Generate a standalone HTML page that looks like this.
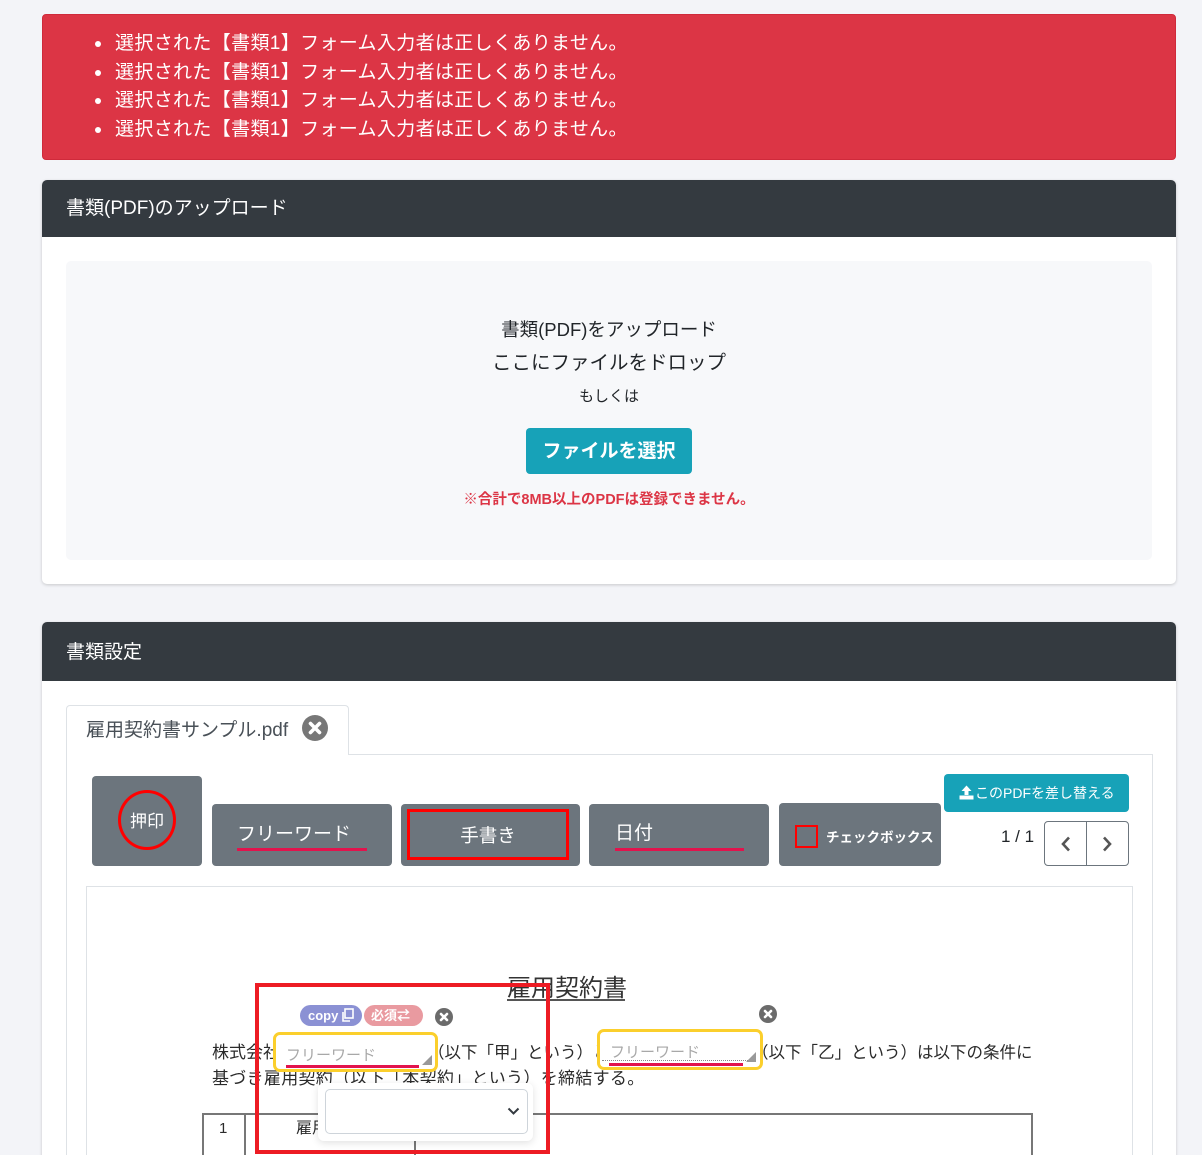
<!DOCTYPE html>
<html><head><meta charset="utf-8">
<style>
*{box-sizing:border-box;margin:0;padding:0}
html,body{width:1202px;height:1155px;overflow:hidden;background:#f3f4f8}
body{font-family:"Liberation Sans","Noto Sans CJK JP",sans-serif;color:#212529}
#root{position:relative;width:1202px;height:1155px;overflow:hidden;background:#f3f4f8}
.a{position:absolute;white-space:nowrap}
.w{color:#fff}
.btn{position:absolute;background:#6c757d;border-radius:4px}
.ul{position:absolute;height:3px;background:#e2134d}
.dot{position:absolute;width:6px;height:6px;border-radius:50%;background:#fff;left:95px}
.dt{position:absolute;color:#2b2b2b;font-size:17px;line-height:24px;white-space:nowrap}
.al{position:absolute;left:115px;color:#fff;font-size:19px;line-height:28px;letter-spacing:0.35px;white-space:nowrap}
</style></head><body><div id="root">

<!-- Alert -->
<div class="a" style="left:42px;top:14px;width:1134px;height:146px;background:#dc3545;border:1px solid #cf2a3b;border-radius:4px"></div>
<div class="dot" style="top:41px"></div>
<div class="dot" style="top:70px"></div>
<div class="dot" style="top:98px"></div>
<div class="dot" style="top:127px"></div>
<div class="al" style="top:30px">選択された【書類1】フォーム入力者は正しくありません。</div>
<div class="al" style="top:59px">選択された【書類1】フォーム入力者は正しくありません。</div>
<div class="al" style="top:87px">選択された【書類1】フォーム入力者は正しくありません。</div>
<div class="al" style="top:116px">選択された【書類1】フォーム入力者は正しくありません。</div>

<!-- Card 1 -->
<div class="a" style="left:42px;top:180px;width:1134px;height:404px;background:#fff;border-radius:5px;box-shadow:0 1px 3px rgba(0,0,0,.18)"></div>
<div class="a" style="left:42px;top:180px;width:1134px;height:57px;background:#343a40;border-radius:5px 5px 0 0"></div>
<div class="a w" style="left:66px;top:195px;font-size:19px;line-height:28px">書類(PDF)のアップロード</div>
<div class="a" style="left:66px;top:261px;width:1086px;height:299px;background:#f7f8fa;border-radius:5px"></div>
<div class="a" style="left:66px;top:316px;width:1086px;text-align:center;font-size:18.5px;line-height:28px">書類(PDF)をアップロード</div>
<div class="a" style="left:66px;top:349px;width:1086px;text-align:center;font-size:19.5px;line-height:28px">ここにファイルをドロップ</div>
<div class="a" style="left:66px;top:386px;width:1086px;text-align:center;font-size:15px;line-height:22px">もしくは</div>
<div class="a" style="left:526px;top:428px;width:166px;height:46px;background:#17a2b8;border-radius:4px;color:#fff;font-weight:bold;font-size:19px;line-height:48px;text-align:center">ファイルを選択</div>
<div class="a" style="left:66px;top:489px;width:1086px;text-align:center;font-size:14.5px;line-height:22px;font-weight:bold;color:#dc3545">※合計で8MB以上のPDFは登録できません。</div>

<!-- Card 2 -->
<div class="a" style="left:42px;top:622px;width:1134px;height:560px;background:#fff;border-radius:5px;box-shadow:0 1px 3px rgba(0,0,0,.18)"></div>
<div class="a" style="left:42px;top:622px;width:1134px;height:59px;background:#343a40;border-radius:5px 5px 0 0"></div>
<div class="a w" style="left:66px;top:639px;font-size:19px;line-height:28px">書類設定</div>

<!-- tab content border -->
<div class="a" style="left:66px;top:754px;width:1087px;height:440px;border:1px solid #dee2e6"></div>
<!-- tab -->
<div class="a" style="left:66px;top:705px;width:283px;height:50px;background:#fff;border:1px solid #dee2e6;border-bottom:none;border-radius:4px 4px 0 0"></div>
<div class="a" style="left:86px;top:717px;font-size:19px;line-height:28px;color:#495057">雇用契約書サンプル.pdf</div>
<svg class="a" style="left:302px;top:715px" width="26" height="26" viewBox="0 0 26 26"><circle cx="13" cy="13" r="13" fill="#777"/><path d="M8.5 8.5L17.5 17.5M17.5 8.5L8.5 17.5" stroke="#fff" stroke-width="3.6" stroke-linecap="round"/></svg>

<!-- toolbar -->
<div class="btn" style="left:92px;top:776px;width:110px;height:90px"></div>
<div class="a" style="left:118px;top:790px;width:58px;height:60px;border:3px solid #ff0000;border-radius:50%"></div>
<div class="a w" style="left:118px;top:809px;width:58px;text-align:center;font-size:17px;line-height:26px">押印</div>

<div class="btn" style="left:212px;top:804px;width:180px;height:62px"></div>
<div class="a w" style="left:237px;top:821px;font-size:19px;line-height:28px">フリーワード</div>
<div class="ul" style="left:237px;top:848px;width:130px"></div>

<div class="btn" style="left:401px;top:804px;width:179px;height:62px"></div>
<div class="a" style="left:407px;top:809px;width:162px;height:51px;border:3px solid #ff0000"></div>
<div class="a w" style="left:407px;top:822px;width:162px;text-align:center;font-size:18.5px;line-height:28px">手書き</div>

<div class="btn" style="left:589px;top:804px;width:180px;height:62px"></div>
<div class="a w" style="left:615px;top:820px;font-size:19px;line-height:28px">日付</div>
<div class="ul" style="left:615px;top:848px;width:129px"></div>

<div class="btn" style="left:779px;top:803px;width:162px;height:63px"></div>
<div class="a" style="left:795px;top:825px;width:23px;height:23px;border:2px solid #ff0000"></div>
<div class="a w" style="left:826px;top:827px;font-size:13.5px;line-height:22px;font-weight:bold">チェックボックス</div>

<div class="a" style="left:944px;top:774px;width:185px;height:38px;background:#17a2b8;border-radius:4px"></div>
<svg class="a" style="left:959px;top:785px" width="15" height="15" viewBox="0 0 15 15"><path d="M7.5 0.5L12.5 6H9.5V10H5.5V6H2.5Z" fill="#fff"/><rect x="0.5" y="10.5" width="14" height="4" fill="#fff"/></svg>
<div class="a w" style="left:975px;top:782px;font-size:14px;line-height:22px">このPDFを差し替える</div>

<div class="a" style="left:1001px;top:825px;font-size:17px;line-height:24px;color:#212529">1 / 1</div>
<div class="a" style="left:1044px;top:821px;width:85px;height:45px;border:1px solid #6c757d;border-radius:4px"></div>
<div class="a" style="left:1086px;top:822px;width:1px;height:43px;background:#6c757d"></div>
<svg class="a" style="left:1060px;top:836px" width="12" height="16" viewBox="0 0 12 16"><path d="M9 1.5L3 8L9 14.5" fill="none" stroke="#555" stroke-width="2.6"/></svg>
<svg class="a" style="left:1101px;top:836px" width="12" height="16" viewBox="0 0 12 16"><path d="M3 1.5L9 8L3 14.5" fill="none" stroke="#555" stroke-width="2.6"/></svg>

<!-- document -->
<div class="a" style="left:86px;top:886px;width:1047px;height:300px;border:1px solid #dee2e6;background:#fff"></div>
<div class="a" style="left:507px;top:974px;font-size:24px;line-height:30px;color:#333">雇用契約書</div>
<div class="a" style="left:507px;top:999px;width:118px;height:2px;background:#555"></div>

<div class="dt" style="left:212px;top:1041px">株式会社</div>
<div class="dt" style="left:428px;top:1041px;font-size:16.5px">（以下「甲」という）と</div>
<div class="dt" style="left:752px;top:1041px;font-size:16.5px">（以下「乙」という）は以下の条件に</div>
<div class="dt" style="left:212px;top:1067px;letter-spacing:0.3px">基づき雇用契約（以下「本契約」という）を締結する。</div>

<!-- table -->
<div class="a" style="left:202px;top:1113px;width:831px;height:2px;background:#777"></div>
<div class="a" style="left:202px;top:1113px;width:2px;height:60px;background:#777"></div>
<div class="a" style="left:244px;top:1113px;width:2px;height:60px;background:#777"></div>
<div class="a" style="left:414px;top:1113px;width:2px;height:60px;background:#777"></div>
<div class="a" style="left:1031px;top:1113px;width:2px;height:60px;background:#777"></div>
<div class="dt" style="left:219px;top:1117px;font-size:15px">1</div>
<div class="dt" style="left:296px;top:1117px;font-size:16px">雇用</div>

<!-- field 1 -->
<div class="a" style="left:273px;top:1032px;width:165px;height:40px;border:3px solid #fbcf2c;border-radius:7px;background:#fff"></div>
<div class="a" style="left:286px;top:1044px;font-size:15px;line-height:24px;color:#a8a8a8">フリーワード</div>
<div class="a" style="left:286px;top:1065px;width:133px;height:3px;background:#e2134d"></div>
<svg class="a" style="left:422px;top:1055px" width="10" height="10"><path d="M10 0V10H0Z" fill="#999"/></svg>

<!-- field 2 -->
<div class="a" style="left:597px;top:1029px;width:166px;height:41px;border:3px solid #fbcf2c;border-radius:7px;background:#fff"></div>
<div class="a" style="left:610px;top:1041px;font-size:15px;line-height:24px;color:#a8a8a8">フリーワード</div>
<div class="a" style="left:602px;top:1060px;width:146px;height:0;border-top:1px dotted #888"></div>
<div class="a" style="left:609px;top:1063px;width:134px;height:3px;background:#e2134d"></div>
<svg class="a" style="left:746px;top:1052px" width="10" height="10"><path d="M10 0V10H0Z" fill="#999"/></svg>
<svg class="a" style="left:759px;top:1005px" width="18" height="18" viewBox="0 0 18 18"><circle cx="9" cy="9" r="9" fill="#6b6b6b"/><path d="M6 6L12 12M12 6L6 12" stroke="#fff" stroke-width="2.6" stroke-linecap="round"/></svg>

<!-- badges -->
<div class="a" style="left:300px;top:1005px;width:62px;height:21px;background:#8b91d4;border-radius:11px"></div>
<div class="a w" style="left:308px;top:1006px;font-size:13px;line-height:19px;font-weight:bold">copy</div>
<svg class="a" style="left:341px;top:1008px" width="13" height="14" viewBox="0 0 13 14"><rect x="4" y="1" width="8" height="9" fill="none" stroke="#fff" stroke-width="1.6"/><path d="M2 4V13H9" fill="none" stroke="#fff" stroke-width="1.6"/></svg>
<div class="a" style="left:364px;top:1005px;width:59px;height:21px;background:#e99aa0;border-radius:11px"></div>
<div class="a w" style="left:371px;top:1006px;font-size:13px;line-height:19px;font-weight:bold">必須⇄</div>
<svg class="a" style="left:435px;top:1008px" width="18" height="18" viewBox="0 0 18 18"><circle cx="9" cy="9" r="9" fill="#6b6b6b"/><path d="M6 6L12 12M12 6L6 12" stroke="#fff" stroke-width="2.6" stroke-linecap="round"/></svg>

<!-- dropdown -->
<div class="a" style="left:318px;top:1083px;width:215px;height:58px;background:#fff;border-radius:6px;box-shadow:0 2px 8px rgba(0,0,0,.12)"></div>
<div class="a" style="left:325px;top:1089px;width:203px;height:45px;border:1px solid #ced4da;border-radius:5px;background:#fff"></div>
<svg class="a" style="left:507px;top:1107px" width="13" height="9" viewBox="0 0 13 9"><path d="M1.5 1.5L6.5 6.5L11.5 1.5" fill="none" stroke="#343a40" stroke-width="2"/></svg>

<!-- red highlight box -->
<div class="a" style="left:255px;top:983px;width:295px;height:171px;border:4px solid #ed1c24"></div>

</div></body></html>
